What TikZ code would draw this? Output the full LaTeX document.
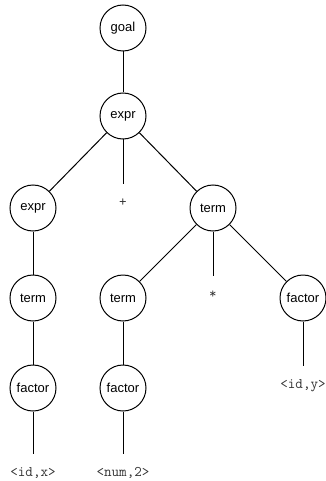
\documentclass[tikz,border=0pt]{standalone}
\usepackage{fontspec}
\setsansfont{Liberation Sans}

\tikzset{every picture/.style={line width=0.75pt}}
\tikzset{
	bubble/.style={draw, circle, minimum size=34.5pt, inner sep=0pt, font=\sffamily\fontsize{9.75}{11}\selectfont},
	leaf/.style={inner sep=0pt, text height=5pt, text depth=0pt, minimum height=28.5pt, text=black!80, font=\ttfamily\fontsize{11}{12}\selectfont}
}

\begin{document}
\begin{tikzpicture}[x=0.75pt,y=0.75pt,yscale=-1,xscale=1]
	\useasboundingbox (0,0) rectangle (325,481);

	% Inner Nodes
	\node[bubble] (goal) at (123,28) {goal};
	\node[bubble] (expr) at (123,116) {expr};
	\node[bubble] (exprL) at (33,208) {expr};
	\node[bubble] (termR) at (213,208) {term};
	\node[bubble] (termL) at (33,298) {term};
	\node[bubble] (termM) at (123,298) {term};
	\node[bubble] (factorR) at (303,298) {factor};
	\node[bubble] (factorL) at (33,388) {factor};
	\node[bubble] (factorM) at (123,388) {factor};

	% Text Node
	\node[leaf] (plus) at (123,203) {+};
	% Text Node
	\node[leaf] (star) at (213,295) {*};
	% Text Node
	\node[leaf] (idy) at (303,385) {<id,y>};
	% Text Node
	\node[leaf] (idx) at (33,473) {<id,x>};
	% Text Node
	\node[leaf] (num) at (123,473) {<num,2>};

	% Straight Lines
	\draw (goal) -- (expr);
	\draw (expr) -- (exprL);
	\draw (expr) -- (plus);
	\draw (expr) -- (termR);
	\draw (exprL) -- (termL);
	\draw (termL) -- (factorL);
	\draw (factorL) -- (idx);
	\draw (termR) -- (termM);
	\draw (termR) -- (star);
	\draw (termR) -- (factorR);
	\draw (termM) -- (factorM);
	\draw (factorM) -- (num);
	\draw (factorR) -- (idy);

\end{tikzpicture}
\end{document}
